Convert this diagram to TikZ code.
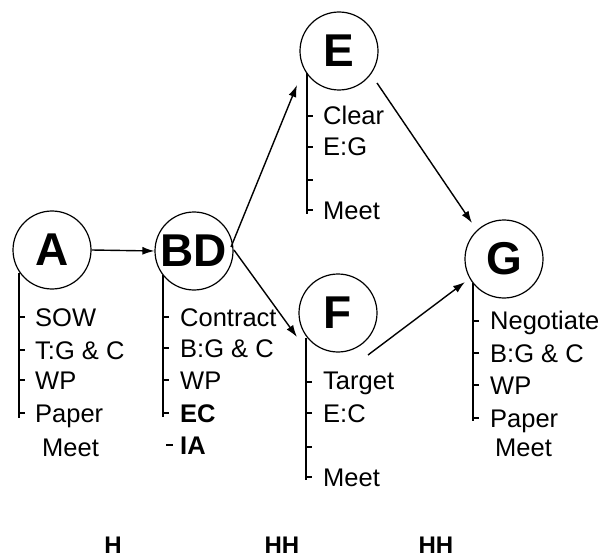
\documentclass[tikz,border=0pt]{standalone}
\usepackage{fontspec}
\setmainfont{Liberation Sans}
\usetikzlibrary{arrows.meta,calc}
\begin{document}
\begin{tikzpicture}[x=1pt,y=-1pt,
  stage/.style={circle,draw,line width=1.2pt,minimum size=78pt,inner sep=0pt,
    font=\fontsize{46}{46}\selectfont\bfseries},
  conn/.style={line width=1.4pt,-{Latex[length=12pt,width=8pt]}},
  stem/.style={line width=1.5pt},
  item/.style={anchor=base west,inner sep=0pt,font=\fontsize{25.5}{30}\selectfont},
  bitem/.style={item,font=\fontsize{25.5}{30}\selectfont\bfseries},
  foot/.style={anchor=base,inner sep=0pt,font=\fontsize{24}{28}\selectfont\bfseries}]
\useasboundingbox (0,0) rectangle (603,559);
% stage circles
\node[stage] (A)  at (52,250) {A};
\node[stage] (BD) at (194,251) {BD};
\node[stage] (E)  at (339,51) {E};
\node[stage] (F)  at (338,313) {F};
\node[stage] (G)  at (504,259) {G};
% connectors
\coordinate (bdE) at ($(BD)+(37,-4)$);
\coordinate (eIn) at ($(E)+(-42,34)$);
\coordinate (bdF) at ($(BD)+(40,-1)$);
\coordinate (fIn) at ($(F)+(-41,24)$);
\coordinate (eOut) at ($(E)+(38,32)$);
\coordinate (gIn1) at ($(G)+(-32,-36)$);
\coordinate (fOut) at ($(F)+(30,42)$);
\coordinate (gIn2) at ($(G)+(-39,23)$);
\draw[conn] (A.east) -- (BD.west);
\draw[conn] (bdE) -- (eIn);
\draw[conn] (bdF) -- (fIn);
\draw[conn] (eOut) -- (gIn1);
\draw[conn] (fOut) -- (gIn2);
% A list
\draw[stem] (19,273) -- (19,418);
\foreach \y in {317,350,380,413} \draw[stem] (19,\y) -- (25,\y);
\node[item] (a1) at (35,326) {SOW};
\node[item] (a2) at (35,359) {T:G \& C};
\node[item] (a3) at (35,389) {WP};
\node[item] (a4) at (35,422) {Paper};
\node[item] (a5) at (42,456) {Meet};
% BD list
\draw[stem] (163,275) -- (163,417);
\foreach \y in {317,348,380,413} \draw[stem] (163,\y) -- (169,\y);
\node[item] (b1) at (180,326) {Contract};
\node[item] (b2) at (180,357) {B:G \& C};
\node[item] (b3) at (180,389) {WP};
\node[bitem] (b4) at (180,422) {EC};
\coordinate (iaL) at (166,445);
\coordinate (iaR) at (173,445);
\draw[stem] (iaL) -- (iaR);
\node[bitem] (b5) at (180,454) {IA};
% E list
\draw[stem] (307,73) -- (307,214);
\foreach \y in {116,147,180,210} \draw[stem] (307,\y) -- (313,\y);
\node[item] (e1) at (323,125) {Clear};
\node[item] (e2) at (323,156) {E:G};
\node[item] (e4) at (323,219) {Meet};
% F list
\draw[stem] (306,338) -- (306,480);
\foreach \y in {382,413,447,477} \draw[stem] (306,\y) -- (312,\y);
\node[item] (f1) at (323,389) {Target};
\node[item] (f2) at (323,422) {E:C};
\node[item] (f4) at (323,486) {Meet};
% G list
\draw[stem] (473,283) -- (473,421);
\foreach \y in {321,353,385,418} \draw[stem] (473,\y) -- (479,\y);
\node[item] (g1) at (490,329) {Negotiate};
\node[item] (g2) at (490,362) {B:G \& C};
\node[item] (g3) at (490,394) {WP};
\node[item] (g4) at (490,427) {Paper};
\node[item] (g5) at (495,456) {Meet};
% footer
\node[foot] (h1) at (113,553) {H};
\node[foot] (h2) at (282,553) {HH};
\node[foot] (h3) at (436,553) {HH};
\end{tikzpicture}
\end{document}
